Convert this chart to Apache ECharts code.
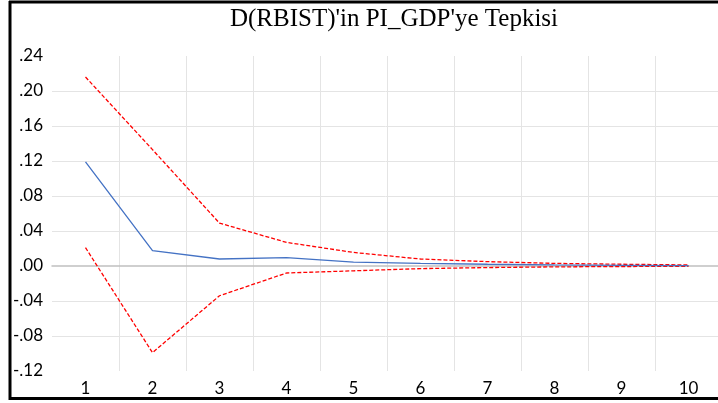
<!DOCTYPE html>
<html>
<head>
<meta charset="utf-8">
<script src="https://cdn.jsdelivr.net/npm/echarts@6/dist/echarts.min.js"></script>
<style>
html,body{margin:0;padding:0;background:#fff;overflow:hidden;}
#c{width:718px;height:403px;}
</style>
</head>
<body>
<div id="c"></div>
<script>
var categories = ['1','2','3','4','5','6','7','8','9','10'];
var response = [0.119, 0.0175, 0.008, 0.0095, 0.0045, 0.003, 0.002, 0.0012, 0.0008, 0.0005];
var upperBand = [0.216, 0.133, 0.049, 0.027, 0.0155, 0.008, 0.005, 0.003, 0.002, 0.0012];
var lowerBand = [0.021, -0.099, -0.034, -0.008, -0.0055, -0.003, -0.0018, -0.001, -0.0006, -0.0003];
var titleText = "D(RBIST)'in PI_GDP'ye Tepkisi";

var chart = echarts.init(document.getElementById('c'), null, {renderer:'canvas'});
var grid = '#e4e4e4';
var yColors = ['rgba(0,0,0,0)', grid, grid, 'rgba(0,0,0,0)', grid, grid, grid, grid, grid, 'rgba(0,0,0,0)'];
var xColors = ['rgba(0,0,0,0)', grid, grid, grid, grid, grid, grid, grid, grid, grid, grid];
function fmt(v){
  var r = Math.round(v*100)/100;
  var s = Math.abs(r).toFixed(2).replace(/^0/, '');
  return (r < 0 ? '-' : '') + s;
}
chart.setOption({
  animation:false,
  backgroundColor:'#fff',
  title:{
    text:titleText, left:389, top:2, textAlign:'center',
    textStyle:{fontFamily:'Liberation Serif', fontSize:25, fontWeight:'normal', color:'#000'}
  },
  grid:{left:52, top:56, width:670, height:315, containLabel:false, outerBoundsMode:'none'},
  xAxis:{
    type:'category', data:categories, boundaryGap:true,
    axisLine:{show:true, onZero:true, lineStyle:{color:'#c0c0c0', width:1.5}},
    axisTick:{show:false},
    axisLabel:{margin:9, fontFamily:'Lato', fontSize:17, color:'#000'},
    splitLine:{show:true, lineStyle:{color:xColors, width:1}}
  },
  yAxis:{
    type:'value', min:-0.12, max:0.24, interval:0.04,
    axisLine:{show:false}, axisTick:{show:false},
    axisLabel:{margin:9, fontFamily:'Lato', fontSize:17, color:'#000', formatter:fmt},
    splitLine:{show:true, lineStyle:{color:yColors, width:1}}
  },
  series:[
    {type:'line', data:upperBand, symbol:'none', lineStyle:{color:'#ff0000', width:1.3, type:[4,2]}},
    {type:'line', data:lowerBand, symbol:'none', lineStyle:{color:'#ff0000', width:1.3, type:[4,2]}},
    {type:'line', data:response, symbol:'none', lineStyle:{color:'#4472c4', width:1.3}}
  ],
  graphic:[
    {type:'line', shape:{x1:9, y1:2, x2:718, y2:2}, style:{stroke:'#000', lineWidth:3}},
    {type:'line', shape:{x1:10, y1:1, x2:10, y2:400}, style:{stroke:'#000', lineWidth:3}},
    {type:'line', shape:{x1:9, y1:398.5, x2:718, y2:398.5}, style:{stroke:'#000', lineWidth:3}}
  ]
});
</script>
</body>
</html>
